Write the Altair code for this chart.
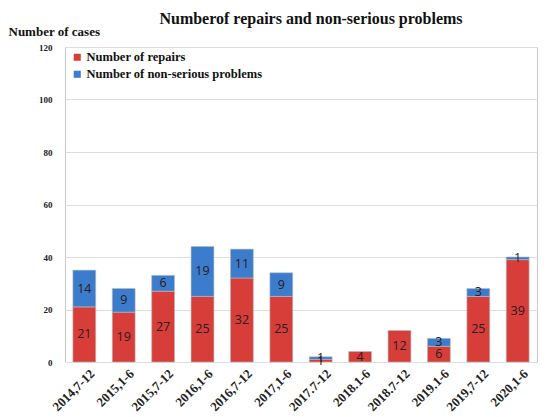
import altair as alt
import pandas as pd

periods = ["2014,7-12", "2015,1-6", "2015,7-12", "2016,1-6", "2016,7-12", "2017,1-6",
           "2017.7-12", "2018.1-6", "2018.7-12", "2019.1-6", "2019,7-12", "2020,1-6"]
repairs = [21, 19, 27, 25, 32, 25, 1, 4, 12, 6, 25, 39]
nonserious = [14, 9, 6, 19, 11, 9, 1, 0, 0, 3, 3, 1]
series = ["Number of repairs", "Number of non-serious problems"]
yticks = [0, 20, 40, 60, 80, 100, 120]

rows = []
for p, r, n in zip(periods, repairs, nonserious):
    rows.append({"period": p, "series": series[0], "value": r, "ord": 0})
    rows.append({"period": p, "series": series[1], "value": n, "ord": 1})
df = pd.DataFrame(rows)

serif = "Liberation Serif"

base = alt.Chart(df).transform_filter(alt.datum.value > 0).transform_stack(
    stack="value", groupby=["period"], as_=["y0", "y1"], sort=[alt.SortField("ord")]
).transform_calculate(mid="(datum.y0 + datum.y1) / 2")

x = alt.X("period:N", sort=periods, title=None,
          scale=alt.Scale(paddingInner=0.42, paddingOuter=0.2),
          axis=alt.Axis(labelAngle=-45, labelAlign="right", labelBaseline="top",
                        labelFont=serif, labelFontWeight="bold", labelFontSize=13,
                        labelColor="#222", ticks=False, domain=False, labelPadding=5,
                        labelOffset=4))

bars = base.mark_bar(stroke="#bbbbbb", strokeWidth=0.6).encode(
    x=x,
    y=alt.Y("y0:Q", scale=alt.Scale(domain=[0, 120]),
            axis=alt.Axis(values=yticks, title="Number of cases", titleAngle=0,
                          titleX=-57, titleY=-12, titleAlign="left", titleBaseline="alphabetic",
                          titleFont=serif, titleFontWeight="bold", titleFontSize=13,
                          titleColor="#111",
                          labelFont=serif, labelFontWeight="bold", labelFontSize=9,
                          labelColor="#222", ticks=False, domain=False, labelPadding=13,
                          gridColor="#dddddd", gridWidth=1.2)),
    y2="y1:Q",
    color=alt.Color("series:N", sort=series,
                    scale=alt.Scale(domain=series, range=["#d73e3a", "#3b7dcc"]),
                    legend=alt.Legend(title=None, orient="none", legendX=6, legendY=4,
                                      symbolType="square", symbolSize=50,
                                      symbolStrokeWidth=0, labelLimit=0,
                                      labelFont=serif, labelFontWeight="bold",
                                      labelFontSize=12.5, labelColor="#111",
                                      rowPadding=4, labelOffset=3)),
)

labels = base.mark_text(font="Open Sans", fontSize=12.5, color="#2a1a1a", baseline="middle").encode(
    x=alt.X("period:N", sort=periods),
    y=alt.Y("mid:Q"),
    text=alt.Text("value:Q"),
)

chart = (bars + labels).properties(
    width=472, height=315,
    title=alt.TitleParams("Numberof repairs and non-serious problems", font=serif,
                          fontSize=16, fontWeight="bold", color="#111", anchor="middle",
                          dx=10, offset=-2),
    autosize=alt.AutoSizeParams(type="none"),
    padding={"left": 57, "top": 39, "right": 2, "bottom": 60},
).configure_view(stroke="#c8c8c8", strokeWidth=1)

chart.save("out.html", embed_options={"renderer": "svg", "actions": False})
